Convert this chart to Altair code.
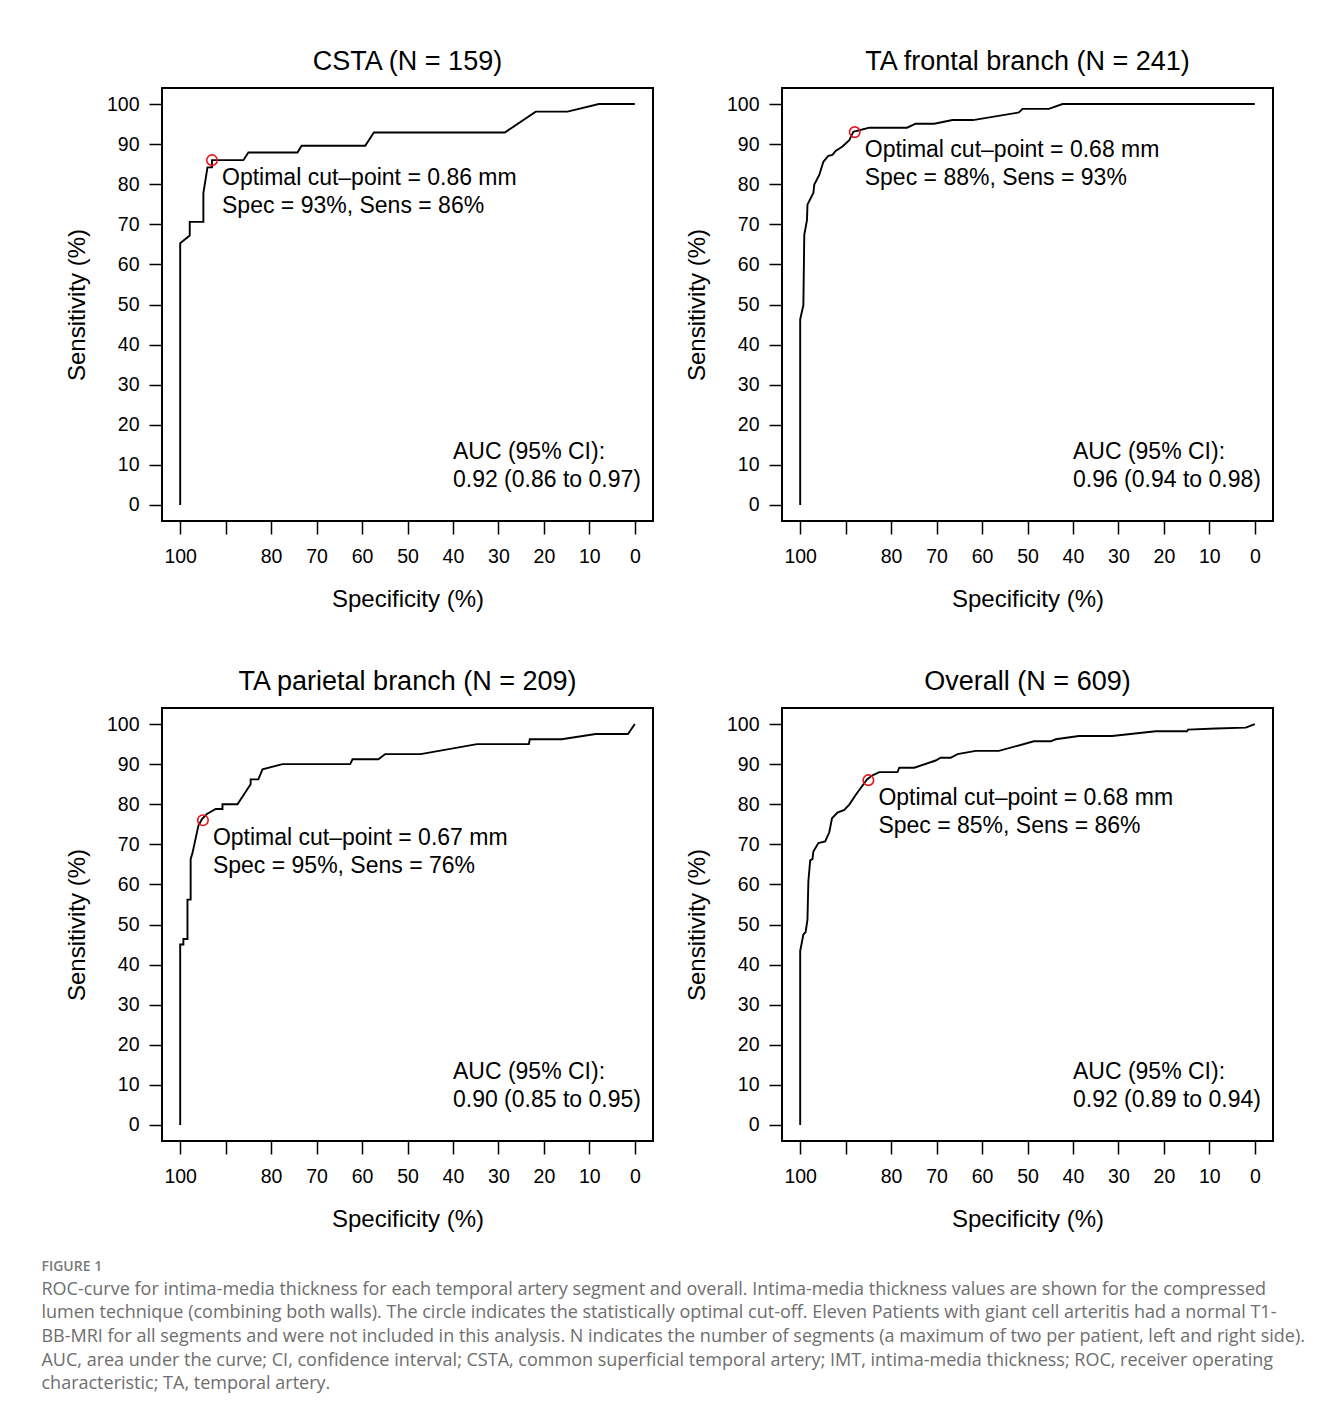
import altair as alt
import pandas as pd

# ---------------- data ----------------
csta_spec = [100, 100, 97.9, 97.9, 94.9, 94.9, 94.0, 93.0, 93.0, 86.1, 85.0, 74.2, 73.3, 59.3, 57.4, 28.6, 21.8, 14.8, 7.9, 0]
csta_sens = [0, 65.3, 67.2, 70.6, 70.6, 77.8, 84.2, 84.2, 86.0, 86.0, 87.9, 87.9, 89.6, 89.6, 92.9, 92.9, 98.1, 98.1, 100, 100]

front_spec = [100, 100, 99.3, 99.1, 98.5, 98.4, 97.7, 97.1, 96.9, 95.8, 94.9, 93.8, 92.9, 92.2, 90.7, 89.2, 88.3, 87.2,
              84.8, 76.5, 74.6, 70.5, 66.5, 62.0, 51.9, 51.1, 45.3, 42.3, 0]
front_sens = [0, 46.3, 49.8, 67.4, 71.1, 74.9, 76.5, 77.8, 79.9, 82.3, 85.6, 87.1, 87.3, 88.3, 89.4, 91.0, 93.1, 93.4,
              94.1, 94.1, 95.1, 95.1, 96.0, 96.0, 97.9, 98.8, 98.8, 100, 100]

par_spec = [100, 100, 99.3, 99.3, 98.4, 98.4, 97.7, 97.7, 97.3, 96.0, 95.2, 94.2, 92.2, 90.7, 90.7, 87.4, 84.5, 84.5,
            82.8, 81.9, 77.5, 62.6, 62.1, 56.4, 54.9, 47.1, 34.7, 23.3, 23.1, 16.1, 8.6, 1.5, 0]
par_sens = [0, 45.0, 45.0, 46.4, 46.4, 56.2, 56.2, 66.3, 67.8, 74.6, 76.3, 77.5, 78.8, 78.8, 80.0, 80.0, 85.0, 86.2,
            86.2, 88.7, 90.0, 90.0, 91.2, 91.2, 92.5, 92.5, 95.0, 95.0, 96.2, 96.2, 97.5, 97.5, 100]

all_spec = [100, 100, 99.3, 98.8, 98.4, 98.2, 97.8, 97.3, 97.1, 96.0, 94.5, 93.6, 93.0, 91.8, 90.3, 89.2, 87.8, 85.3,
            84.1, 82.6, 78.6, 78.2, 74.9, 70.2, 69.1, 66.9, 65.4, 61.4, 56.3, 48.6, 44.9, 43.8, 38.7, 31.4, 21.8,
            14.9, 14.7, 8.6, 2.0, 0]
all_sens = [0, 43.4, 47.5, 48.1, 51.2, 60.8, 66.0, 66.3, 68.2, 70.3, 70.7, 73.0, 76.5, 77.9, 78.6, 79.9, 82.3, 86.2,
            87.2, 88.0, 88.0, 89.1, 89.1, 90.9, 91.6, 91.6, 92.5, 93.3, 93.3, 95.7, 95.7, 96.2, 97.0, 97.0, 98.2,
            98.2, 98.6, 98.9, 99.1, 100]

titles = ["CSTA (N = 159)", "TA frontal branch (N = 241)", "TA parietal branch (N = 209)", "Overall (N = 609)"]
opt_spec = [93, 88, 95, 85]
opt_sens = [86, 93, 76, 86]
opt_mm = ["0.86", "0.68", "0.67", "0.68"]
auc_text = ["0.92 (0.86 to 0.97)", "0.96 (0.94 to 0.98)", "0.90 (0.85 to 0.95)", "0.92 (0.89 to 0.94)"]

x_ticks = [100, 90, 80, 70, 60, 50, 40, 30, 20, 10, 0]
y_ticks = [0, 10, 20, 30, 40, 50, 60, 70, 80, 90, 100]

caption_lines = [
    "ROC-curve for intima-media thickness for each temporal artery segment and overall. Intima-media thickness values are shown for the compressed",
    "lumen technique (combining both walls). The circle indicates the statistically optimal cut-off. Eleven Patients with giant cell arteritis had a normal T1-",
    "BB-MRI for all segments and were not included in this analysis. N indicates the number of segments (a maximum of two per patient, left and right side).",
    "AUC, area under the curve; CI, confidence interval; CSTA, common superficial temporal artery; IMT, intima-media thickness; ROC, receiver operating",
    "characteristic; TA, temporal artery.",
]

FONT = "Liberation Sans"


def panel(i, spec, sens):
    df = pd.DataFrame({"spec": spec, "sens": sens, "ord": list(range(len(spec)))})
    xs = alt.Scale(domain=[-4, 104], reverse=True, nice=False, zero=False)
    ys = alt.Scale(domain=[-4, 104], nice=False, zero=False)
    xax = alt.Axis(values=x_ticks, labelExpr="datum.value == 90 ? '' : datum.label",
                   title="Specificity (%)", labelPadding=13, titlePadding=22)
    yax = alt.Axis(values=y_ticks, title="Sensitivity (%)", labelPadding=10, titlePadding=17)
    x = alt.X("spec:Q", scale=xs, axis=xax)
    y = alt.Y("sens:Q", scale=ys, axis=yax)

    line = alt.Chart(df).mark_line(color="black", strokeWidth=1.9).encode(x=x, y=y, order="ord:Q")
    pdf = pd.DataFrame({"spec": [opt_spec[i]], "sens": [opt_sens[i]],
                        "t": [f"Optimal cut\u2013point = {opt_mm[i]} mm\nSpec = {opt_spec[i]}%, Sens = {opt_sens[i]}%"]})
    pt = alt.Chart(pdf).mark_point(shape="circle", filled=False, color="#e8141c", size=110,
                                   strokeWidth=1.6, opacity=1).encode(x=x, y=y)
    txt = alt.Chart(pdf).mark_text(align="left", baseline="alphabetic", dx=10, dy=25, fontSize=23,
                                   lineHeight=27.5, lineBreak="\n", font=FONT, color="black").encode(
        x=x, y=y, text="t:N")
    adf = pd.DataFrame({"spec": [40], "sens": [11.4], "t": ["AUC (95% CI):\n" + auc_text[i]]})
    auc = alt.Chart(adf).mark_text(align="left", baseline="alphabetic", fontSize=23, lineHeight=27.5,
                                   lineBreak="\n", font=FONT, color="black").encode(x=x, y=y, text="t:N")
    return alt.layer(line, pt, txt, auc).properties(
        width=491, height=433,
        title=alt.TitleParams(titles[i], fontSize=27, font=FONT, fontWeight="normal", color="black", offset=12),
    )


p1 = panel(0, csta_spec, csta_sens)
p2 = panel(1, front_spec, front_sens)
p3 = panel(2, par_spec, par_sens)
p4 = panel(3, all_spec, all_sens)

chart = alt.vconcat(
    alt.hconcat(p1, p2, spacing=30),
    alt.hconcat(p3, p4, spacing=30),
    spacing=54,
).properties(
    padding={"left": 33, "top": 39, "right": 5, "bottom": 5},
    title=alt.TitleParams(
        "FIGURE 1", subtitle=caption_lines, orient="bottom", anchor="start", dx=-23, offset=27,
        font="Open Sans", fontSize=14, fontWeight=600, color="#7a7a7a",
        subtitleFont="Open Sans", subtitleFontSize=18, subtitleColor="#6e6e6e",
        subtitleLineHeight=23.7, subtitlePadding=7,
    ),
).configure_view(stroke="black", strokeWidth=2).configure_axis(
    domain=False, grid=False, tickColor="black", tickWidth=1.5, tickSize=13,
    labelFont=FONT, labelFontSize=19.5, labelColor="black", labelFlush=False, labelOverlap=False,
    titleFont=FONT, titleFontSize=24, titleFontWeight="normal", titleColor="black",
).configure_axisY(labelBaseline="middle")

chart.save("out.html", embed_options={"renderer": "svg", "actions": False})
